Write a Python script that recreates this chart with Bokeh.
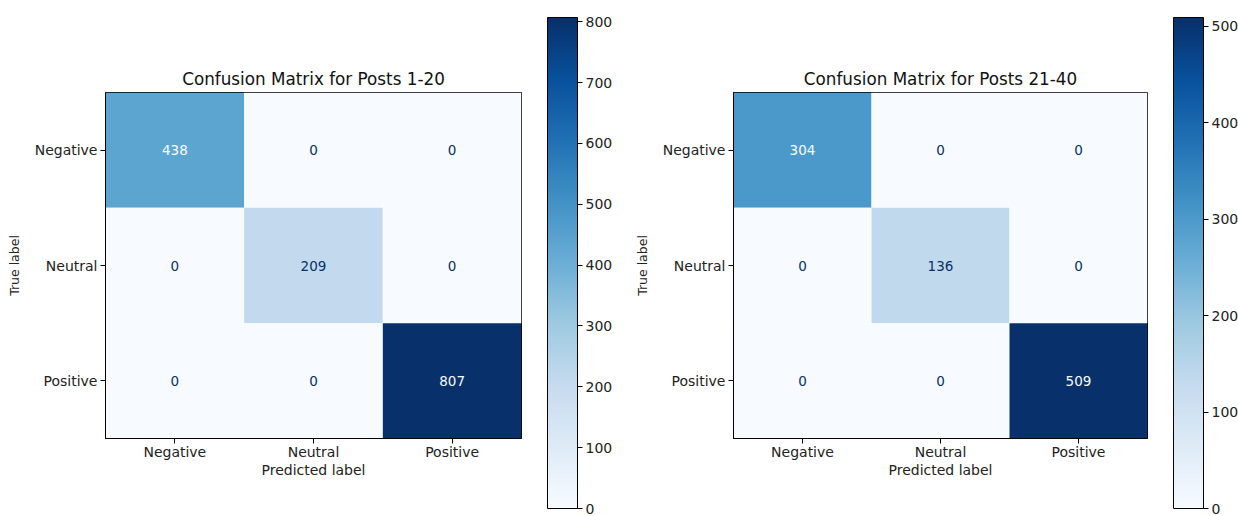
import numpy as np
from bokeh.plotting import figure
from bokeh.layouts import row
from bokeh.models import (ColumnDataSource, FactorRange, LinearColorMapper,
                          SingleIntervalTicker, ColorBar)
from bokeh.transform import transform
from bokeh.palettes import Blues256
from bokeh.embed import file_html
from bokeh.resources import INLINE

# ---- data ----
labels = ["Negative", "Neutral", "Positive"]
cm_posts_1_20 = [[438, 0, 0],
                 [0, 209, 0],
                 [0, 0, 807]]
cm_posts_21_40 = [[304, 0, 0],
                  [0, 136, 0],
                  [0, 0, 509]]
titles = ["Confusion Matrix for Posts 1-20", "Confusion Matrix for Posts 21-40"]
cbar_interval = [100, 100]

FONT = "DejaVu Sans"
TXT = "14px"
PALETTE = list(Blues256)[::-1]
LIGHT, DARK = PALETTE[0], PALETTE[-1]


def matrix_fig(cm, title, bl, br, width, cb_x, interval):
    vals = np.array(cm)
    vmax = vals.max()
    vmin = vals.min()
    thresh = (vmax + vmin) / 2.0
    mapper = LinearColorMapper(palette=PALETTE, low=vmin, high=vmax)
    xs, ys, vv, tt, cc = [], [], [], [], []
    for i, t in enumerate(labels):
        for j, pr in enumerate(labels):
            xs.append(pr)
            ys.append(t)
            vv.append(int(vals[i, j]))
            tt.append(str(int(vals[i, j])))
            cc.append(LIGHT if vals[i, j] > thresh else DARK)
    src = ColumnDataSource(dict(x=xs, y=ys, v=vv, t=tt, c=cc))
    p = figure(width=width, height=516, x_range=FactorRange(*labels),
               y_range=FactorRange(*labels[::-1]), output_backend="svg",
               toolbar_location=None, title=title,
               min_border_left=bl, min_border_right=br,
               min_border_top=92, min_border_bottom=78)
    p.rect(x="x", y="y", width=1, height=1, source=src,
           fill_color=transform("v", mapper), line_color=None)
    p.text(x="x", y="y", text="t", source=src, text_color="c",
           text_align="center", text_baseline="middle",
           text_font={"value": FONT}, text_font_size="13.5px")
    p.title.align = "center"
    p.title.text_font = FONT
    p.title.text_font_style = "normal"
    p.title.text_font_size = "16.8px"
    p.title.text_color = "#111111"
    p.title.standoff = 8
    p.xgrid.visible = False
    p.ygrid.visible = False
    p.outline_line_color = "black"
    p.outline_line_alpha = 1
    p.background_fill_color = "white"
    for ax in (p.xaxis, p.yaxis):
        ax.axis_line_color = "black"
        ax.major_tick_line_color = "black"
        ax.major_tick_out = 5
        ax.major_tick_in = 0
        ax.minor_tick_line_color = None
        ax.major_label_text_font = FONT
        ax.major_label_text_font_size = TXT
        ax.major_label_text_color = "#222222"
        ax.axis_label_text_font = FONT
        ax.axis_label_text_font_size = TXT
        ax.axis_label_text_font_style = "normal"
        ax.axis_label_text_color = "#222222"
    p.yaxis.major_label_standoff = 3
    p.xaxis.major_label_standoff = 0
    p.xaxis.axis_label = "Predicted label"
    p.yaxis.axis_label = "True label"
    p.xaxis.axis_label_standoff = -1
    p.yaxis.axis_label_standoff = 10
    p.yaxis.axis_label_text_font_size = "12.5px"

    cb = ColorBar(color_mapper=mapper, location=(cb_x, -70), width=30,
                  height=491, padding=0, margin=0,
                  ticker=SingleIntervalTicker(interval=interval),
                  major_tick_in=0, major_tick_out=5,
                  major_tick_line_color="black",
                  minor_tick_line_color=None,
                  bar_line_color="black", bar_line_width=1,
                  label_standoff=3,
                  major_label_text_font=FONT,
                  major_label_text_font_size=TXT,
                  major_label_text_color="#222222",
                  background_fill_alpha=0, border_line_color=None)
    p.add_layout(cb, "center")
    return p


m1 = matrix_fig(cm_posts_1_20, titles[0], 105, 99, 620, 442, cbar_interval[0])
m2 = matrix_fig(cm_posts_21_40, titles[1], 113, 91, 618, 440, cbar_interval[1])

layout = row(m1, m2)
open("out.html", "w").write(file_html(layout, INLINE))
